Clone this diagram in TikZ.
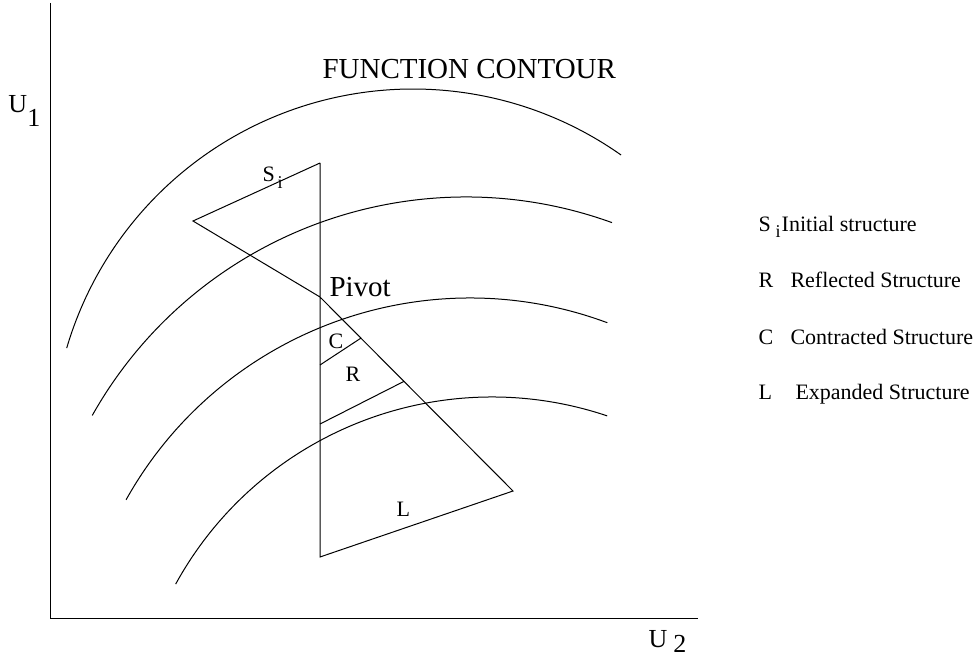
\documentclass[tikz,border=0pt]{standalone}
\usepackage{fontspec}
\setmainfont{Liberation Serif}
\usetikzlibrary{positioning,calc}

\begin{document}
\begin{tikzpicture}[x=0.5pt,y=0.5pt,line width=0.5pt,
    every node/.style={inner sep=0pt,anchor=base west,font=\fontsize{11}{13}\selectfont},
    big/.style={font=\fontsize{14.5}{17}\selectfont},
    axlbl/.style={font=\fontsize{13}{15}\selectfont}]
  \useasboundingbox (0,0) rectangle (980,659);
  % axes
  \coordinate (orig) at (50,41);
  \coordinate (ytop) at (50,656);
  \coordinate (xend) at (698,41);
  \draw (ytop) -- (orig) -- (xend);
  \node[axlbl] (uone) at (8,546) {U\raisebox{-7pt}{1}};
  \node[axlbl] (utwo) at (648,12) {U\hspace{3pt}\raisebox{-2.5pt}{2}};
  % contours
  \foreach \cx/\cy/\r/\a/\b in {413/209/361/163.6/54.8, 466/33/429/150.6/70.1,
      470/-33/394/150.8/69.6, 492/-99/361/151.2/71.4}{
    \draw (\cx,\cy) ++(\a:\r) arc[start angle=\a,end angle=\b,radius=\r]; }
  \node[big] (title) at (322,580) {FUNCTION CONTOUR};
  % structures
  \coordinate (stop) at (320,496);
  \coordinate (sleft) at (193,438);
  \coordinate (pivot) at (320,362);
  \coordinate (ltip) at (513,168);
  \coordinate (lbot) at (320,102);
  \coordinate (cin) at (320,294);
  \coordinate (rin) at (320,235);
  \draw (stop) -- (sleft) -- (pivot) -- (ltip) -- (lbot) -- (stop);
  \draw (cin) -- ($(pivot)!0.212!(ltip)$);
  \draw (rin) -- ($(pivot)!0.435!(ltip)$);
  \node[big] (pivlbl) at (329,362) {Pivot};
  \node (slbl) at (262,477) {S\hspace{1.5pt}\raisebox{-3.5pt}{\fontsize{9}{10}\selectfont i}};
  \node (clbl) at (328,310) {C};
  \node (rlbl) at (345,277) {R};
  \node (llbl) at (396,142) {L};
  % legend
  \node (keys) at (758,427) {S\hspace{2.5pt}\raisebox{-3pt}{\fontsize{9}{10}\selectfont i}\hspace{0.5pt}Initial structure};
  \node (keyr) at (758,371) {R};
  \node (txtr) at (790,371) {Reflected Structure};
  \node (keyc) at (758,314) {C};
  \node (txtc) at (790,314) {Contracted Structure};
  \node (keyl) at (758,259) {L};
  \node (txtl) at (795,259) {Expanded Structure};
\end{tikzpicture}
\end{document}
